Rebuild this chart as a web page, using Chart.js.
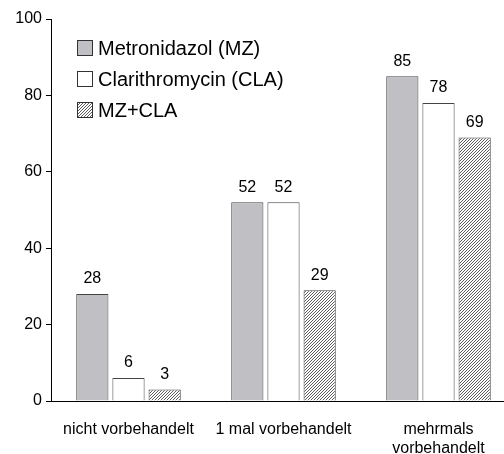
<!DOCTYPE html>
<html>
<head>
<meta charset="utf-8">
<script src="https://cdn.jsdelivr.net/npm/chart.js@4/dist/chart.umd.min.js"></script>
<style>
  html, body { margin: 0; padding: 0; background: #fff; overflow: hidden; }
  #wrap { width: 516px; height: 454px; }
</style>
</head>
<body>
<div id="wrap"><canvas id="chart" width="516" height="454"></canvas></div>
<script>
const categories = [['nicht vorbehandelt'], ['1 mal vorbehandelt'], ['mehrmals', 'vorbehandelt']]
const seriesNames = ['Metronidazol (MZ)', 'Clarithromycin (CLA)', 'MZ+CLA']
const mzValues  = [28, 52, 85]
const claValues = [6, 52, 78]
const comboValues = [3, 29, 69]
const yTicks = [0, 20, 40, 60, 80, 100]

const FONT = 'Liberation Sans, Arial, sans-serif'

// diagonal hatch for MZ+CLA
function makeHatch() {
  const c = document.createElement('canvas')
  c.width = 3; c.height = 3
  const g = c.getContext('2d')
  g.fillStyle = '#fff'
  g.fillRect(0, 0, 3, 3)
  g.strokeStyle = '#333'
  g.lineWidth = 0.8
  g.beginPath()
  g.moveTo(-1, 4); g.lineTo(4, -1)
  g.moveTo(-2, 2); g.lineTo(2, -2)
  g.moveTo(1, 5); g.lineTo(5, 1)
  g.stroke()
  return g.createPattern(c, 'repeat')
}

const ctx = document.getElementById('chart')
const hatchFill = makeHatch()

// value labels above bars
const valueLabels = {
  id: 'valueLabels',
  afterDatasetsDraw(chart) {
    const g = chart.ctx
    g.save()
    g.font = '16px ' + FONT
    g.fillStyle = '#000'
    g.textAlign = 'center'
    g.textBaseline = 'middle'
    chart.data.datasets.forEach((ds, i) => {
      chart.getDatasetMeta(i).data.forEach((bar, j) => {
        g.fillText(String(ds.data[j]), bar.x, bar.y - 15)
      })
    })
    g.restore()
  }
}

// legend inside the plot, top left
const innerLegend = {
  id: 'innerLegend',
  afterDraw(chart) {
    const g = chart.ctx
    const x0 = 77, y0 = 48, step = 31, box = 16
    g.save()
    g.font = '20px ' + FONT
    g.textBaseline = 'middle'
    g.textAlign = 'left'
    chart.data.datasets.forEach((ds, i) => {
      const y = y0 + i * step
      g.fillStyle = ds.backgroundColor
      g.fillRect(x0, y - box / 2, box, box)
      g.strokeStyle = '#333'
      g.lineWidth = 1
      g.strokeRect(x0 + 0.5, y - box / 2 + 0.5, box - 1, box - 1)
      g.fillStyle = '#000'
      g.fillText(ds.label, x0 + 21, y + 1)
    })
    g.restore()
  }
}

new Chart(ctx, {
  type: 'bar',
  data: {
    labels: categories,
    datasets: [
      { label: seriesNames[0], data: mzValues, backgroundColor: '#c0c0c4', borderColor: '#444', borderWidth: 1 },
      { label: seriesNames[1], data: claValues, backgroundColor: '#ffffff', borderColor: '#444', borderWidth: 1 },
      { label: seriesNames[2], data: comboValues, backgroundColor: hatchFill, borderColor: '#444', borderWidth: 1 }
    ]
  },
  options: {
    responsive: false,
    animation: false,
    categoryPercentage: 0.7,
    barPercentage: 0.89,
    layout: { padding: { top: 19, right: 0, left: 0, bottom: 0 } },
    plugins: {
      legend: { display: false },
      tooltip: { enabled: false }
    },
    scales: {
      x: {
        grid: { display: false },
        border: { color: '#000', width: 1 },
        ticks: { color: '#000', font: { family: FONT, size: 16 }, padding: 11, maxRotation: 0 },
        afterFit(scale) { scale.height = 53 }
      },
      y: {
        min: 0,
        max: 100,
        afterBuildTicks(scale) { scale.ticks = yTicks.map(v => ({ value: v })) },
        grid: { drawOnChartArea: false, tickLength: 5, color: '#000' },
        border: { color: '#000', width: 1 },
        ticks: { color: '#000', font: { family: FONT, size: 16 }, padding: 4 },
        afterFit(scale) { scale.width = 51 }
      }
    }
  },
  plugins: [valueLabels, innerLegend]
})
</script>
</body>
</html>
